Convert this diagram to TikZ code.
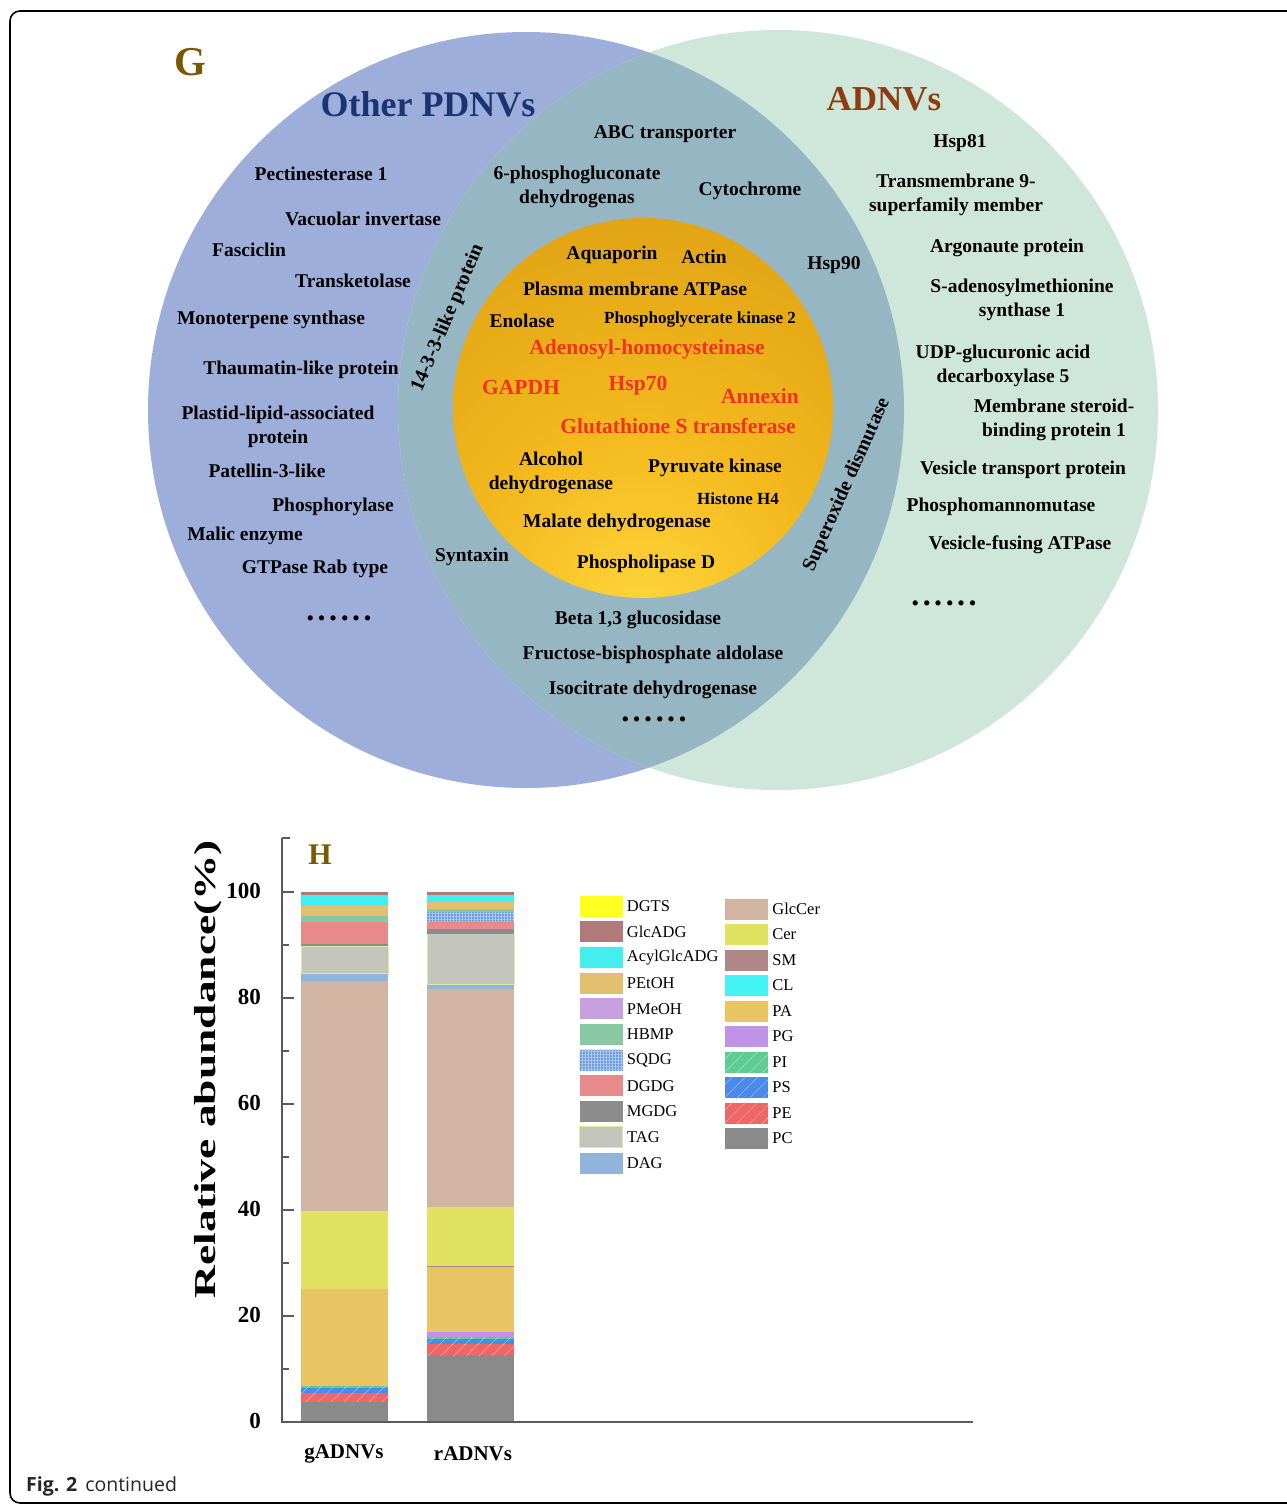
\documentclass[tikz,border=0pt]{standalone}
\usepackage{fontspec}
\setmainfont{Liberation Serif}
\newfontfamily\capfont{Open Sans}
\usetikzlibrary{positioning,patterns.meta}

% venn colours
\definecolor{vennBlue}{HTML}{9CAED9}
\definecolor{vennGreen}{HTML}{CFE7DB}
\definecolor{vennBoth}{HTML}{95B6C2}
\definecolor{goldHi}{HTML}{FFD83C}
\definecolor{goldMid}{HTML}{F3B81E}
\definecolor{goldDeep}{HTML}{D7980F}
\definecolor{goldDark}{HTML}{B07C08}
\definecolor{coreRed}{HTML}{F2321E}
\definecolor{tagG}{HTML}{785800}
\definecolor{titBlue}{HTML}{1A3574}
\definecolor{titBrown}{HTML}{8E3B10}
\definecolor{axGray}{HTML}{5A5A5A}
% lipid colours
\definecolor{cDGTS}{HTML}{FFFF22}
\definecolor{cGlcADG}{HTML}{B07A7A}
\definecolor{cAcyl}{HTML}{44EEEE}
\definecolor{cPEtOH}{HTML}{E2C070}
\definecolor{cPMeOH}{HTML}{C8A0E0}
\definecolor{cHBMP}{HTML}{88C8A2}
\definecolor{cSQDG}{HTML}{6C9CE0}
\definecolor{cDGDG}{HTML}{E88A8A}
\definecolor{cMGDG}{HTML}{8C8C8C}
\definecolor{cTAG}{HTML}{C4C6BE}
\definecolor{cTAGedge}{HTML}{D6EEA0}
\definecolor{cDAG}{HTML}{92B4DA}
\definecolor{cGlcCer}{HTML}{D2B4A2}
\definecolor{cCer}{HTML}{E2E262}
\definecolor{cSM}{HTML}{B08686}
\definecolor{cCL}{HTML}{44F4F4}
\definecolor{cPA}{HTML}{E8C462}
\definecolor{cPG}{HTML}{C092E8}
\definecolor{cPI}{HTML}{5ECC92}
\definecolor{cPS}{HTML}{4A8AE8}
\definecolor{cPE}{HTML}{F06666}
\definecolor{cPC}{HTML}{8A8A8A}

\pgfdeclareradialshading{coreGold}{\pgfpoint{0bp}{-30bp}}{%
  color(0bp)=(goldHi); color(22bp)=(goldMid); color(55bp)=(goldDeep);
  color(80bp)=(goldDark); color(100bp)=(goldDark)}

\newcommand{\sixdots}{.\hspace{3.5pt}.\hspace{3.5pt}.\hspace{3.5pt}.\hspace{3.5pt}.\hspace{3.5pt}.}

\begin{document}
\begin{tikzpicture}[
    x=1pt, y=-1pt,
    vtext/.style={font=\fontsize{19.5}{24}\selectfont\bfseries,align=center,inner sep=0pt},
    rtext/.style={vtext,text=coreRed,font=\fontsize{21.5}{25}\selectfont\bfseries},
    stext/.style={vtext,font=\fontsize{17}{20}\selectfont\bfseries},
    arctext/.style={vtext,font=\fontsize{20}{24}\selectfont\bfseries},
    ellip/.style={vtext,font=\fontsize{32}{32}\selectfont\bfseries},
    ticklab/.style={font=\fontsize{23}{25}\selectfont\bfseries,anchor=east,inner sep=0pt},
    catlab/.style={font=\fontsize{21}{24}\selectfont\bfseries,inner sep=0pt},
    legtext/.style={font=\fontsize{16.5}{18}\selectfont,inner sep=0pt,anchor=west},
    swatch/.style={minimum width=43pt,minimum height=21pt,inner sep=0pt},
    axline/.style={draw=axGray,line width=2.5pt},
    hatchw/.style={postaction={pattern={Lines[angle=45,distance=9pt,line width=0.5pt]},pattern color=white!45!#1}},
    lDGTS/.style={fill=cDGTS},
    lGlcADG/.style={fill=cGlcADG},
    lAcylGlcADG/.style={fill=cAcyl},
    lPEtOH/.style={fill=cPEtOH},
    lPMeOH/.style={fill=cPMeOH},
    lHBMP/.style={fill=cHBMP},
    lSQDG/.style={fill=cSQDG,postaction={pattern={Hatch[angle=0,distance=3pt,line width=0.5pt]},pattern color=cSQDG!55!white}},
    lDGDG/.style={fill=cDGDG},
    lMGDG/.style={fill=cMGDG},
    lTAG/.style={fill=cTAG,draw=cTAGedge,line width=0.8pt},
    lDAG/.style={fill=cDAG},
    lGlcCer/.style={fill=cGlcCer},
    lCer/.style={fill=cCer},
    lSM/.style={fill=cSM},
    lCL/.style={fill=cCL},
    lPA/.style={fill=cPA},
    lPG/.style={fill=cPG},
    lPI/.style={fill=cPI,hatchw=cPI},
    lPS/.style={fill=cPS,hatchw=cPS},
    lPE/.style={fill=cPE,hatchw=cPE},
    lPC/.style={fill=cPC},
  ]
  \useasboundingbox (0,0) rectangle (1287,1504);
  \fill[white] (0,0) rectangle (1287,1504);

  % --- frame ---
  \begin{scope}
    \clip (0,0) rectangle (1287,1504);
    \draw[line width=1.6pt,rounded corners=10pt] (1300,11) -- (10,11) -- (10,1503) -- (1300,1503);
  \end{scope}

  % --- venn circles ---
  \fill[vennBlue]  (526,410) circle[radius=378];
  \fill[vennGreen] (778,410) circle[radius=380];
  \begin{scope}
    \clip (526,410) circle[radius=378];
    \fill[vennBoth] (778,410) circle[radius=380];
  \end{scope}
  \shade[shading=coreGold] (643,408) circle[radius=190];

  % --- titles ---
  \node[font=\fontsize{41}{43}\selectfont\bfseries,text=tagG,inner sep=0pt] (tagG) at (190,62) {G};
  \node[font=\fontsize{36}{38}\selectfont\bfseries,text=titBlue,inner sep=0pt] (tOther) at (428,104) {Other PDNVs};
  \node[font=\fontsize{35}{38}\selectfont\bfseries,text=titBrown,inner sep=0pt] (tAD) at (884,99) {ADNVs};

  % --- other PDNVs only ---
  \node[vtext] (pect)  at (321,174) {Pectinesterase 1};
  \node[vtext] (vacu)  at (363,219) {Vacuolar invertase};
  \node[vtext] (fasc)  at (249,250) {Fasciclin};
  \node[vtext] (trans) at (353,281) {Transketolase};
  \node[vtext] (mono)  at (271,320) {Monoterpene synthase};
  \node[vtext] (thau)  at (301,370) {Thaumatin-like protein};
  \node[vtext] (plas)  at (278,427) {Plastid-lipid-associated\\protein};
  \node[vtext] (pate)  at (267,471) {Patellin-3-like};
  \node[vtext] (phos)  at (333,507) {Phosphorylase};
  \node[vtext] (mali)  at (245,536) {Malic enzyme};
  \node[vtext] (gtp)   at (315,569) {GTPase Rab type};
  \node[ellip] (dotsL) at (339,618) {\sixdots};

  % --- shared ring ---
  \node[vtext] (abc)   at (665,134) {ABC transporter};
  \node[vtext] (pgd)   at (577,187) {6-phosphogluconate\\dehydrogenas};
  \node[vtext] (cyto)  at (750,191) {Cytochrome};
  \node[vtext] (hsp90) at (834,265) {Hsp90};
  \node[arctext,rotate=67] (p1433) at (448,318) {14-3-3-like protein};
  \node[arctext,rotate=66] (sod)   at (847,485) {Superoxide dismutase};
  \node[vtext] (synt)  at (472,557) {Syntaxin};
  \node[vtext] (beta)  at (638,620) {Beta 1,3 glucosidase};
  \node[vtext] (fba)   at (653,655) {Fructose-bisphosphate aldolase};
  \node[vtext] (icd)   at (653,690) {Isocitrate dehydrogenase};
  \node[ellip] (dotsC) at (654,719) {\sixdots};

  % --- core ---
  \node[vtext] (aqua)  at (612,255) {Aquaporin};
  \node[vtext] (actin) at (704,257) {Actin};
  \node[vtext] (pmat)  at (635,289) {Plasma membrane ATPase};
  \node[vtext] (enol)  at (522,321) {Enolase};
  \node[stext] (pgk)   at (700,319) {Phosphoglycerate kinase 2};
  \node[rtext] (ahcy)  at (647,349) {Adenosyl-homocysteinase};
  \node[rtext] (gapdh) at (521,387) {GAPDH};
  \node[rtext] (hsp70) at (638,386) {Hsp70};
  \node[rtext] (anx)   at (760,396) {Annexin};
  \node[rtext] (gst)   at (678,426) {Glutathione S transferase};
  \node[vtext] (adh)   at (551,473) {Alcohol\\dehydrogenase};
  \node[vtext] (pyk)   at (715,468) {Pyruvate kinase};
  \node[stext] (h4)    at (738,499) {Histone H4};
  \node[vtext] (mdh)   at (617,523) {Malate dehydrogenase};
  \node[vtext] (pld)   at (646,564) {Phospholipase D};

  % --- ADNVs only ---
  \node[vtext] (hsp81) at (960,143) {Hsp81};
  \node[vtext] (tm9)   at (956,195) {Transmembrane 9-\\superfamily member};
  \node[vtext] (ago)   at (1007,248) {Argonaute protein};
  \node[vtext] (sams)  at (1022,300) {S-adenosylmethionine\\synthase 1};
  \node[vtext] (uxs)   at (1003,366) {UDP-glucuronic acid\\decarboxylase 5};
  \node[vtext] (msbp)  at (1054,420) {Membrane steroid-\\binding protein 1};
  \node[vtext] (vtp)   at (1023,470) {Vesicle transport protein};
  \node[vtext] (pmm)   at (1001,507) {Phosphomannomutase};
  \node[vtext] (nsf)   at (1020,545) {Vesicle-fusing ATPase};
  \node[ellip] (dotsR) at (944,603) {\sixdots};

  % --- stacked bars (value v sits at y = 1422 - 5.3 v) ---
  \foreach \lo/\hi/\st in {0/3.8/lPC, 3.8/5.5/lPE, 5.5/6.5/lPS, 6.5/6.8/lPI,
      6.8/25.1/lPA, 25.1/39.8/lCer, 39.8/83.2/lGlcCer, 83.2/84.7/lDAG,
      84.7/89.8/lTAG, 89.8/90.2/lMGDG, 90.2/94.3/lDGDG, 94.3/95.5/lHBMP,
      95.5/97.5/lPEtOH, 97.5/99.4/lAcylGlcADG, 99.4/100/lGlcADG}
    \path[\st] (301,{1422-5.3*\lo}) rectangle (388,{1422-5.3*\hi});
  \foreach \lo/\hi/\st in {0/12.6/lPC, 12.6/14.7/lPE, 14.7/15.7/lPS, 15.7/16.0/lPI,
      16.0/17.0/lPG, 17.0/29.2/lPA, 29.2/29.5/lSM, 29.5/40.5/lCer,
      40.5/81.7/lGlcCer, 81.7/82.5/lDAG, 82.5/92.1/lTAG, 92.1/93.0/lMGDG,
      93.0/94.5/lDGDG, 94.5/96.2/lSQDG, 96.2/96.8/lHBMP, 96.8/98.1/lPEtOH,
      98.1/99.4/lAcylGlcADG, 99.4/100/lGlcADG}
    \path[\st] (427,{1422-5.3*\lo}) rectangle (514,{1422-5.3*\hi});

  % --- axes ---
  \coordinate (yTop) at (282,838);
  \coordinate (org)  at (282,1422);
  \coordinate (xEnd) at (973,1422);
  \draw[axline] (yTop) -- (org) -- (xEnd);
  \draw[axline] (yTop) -- ++(8,0);
  \foreach \v in {0,20,...,100}{
    \draw[axline] (282,{1422-5.3*\v}) -- ++(12,0);
    \node[ticklab] (tk\v) at (261,{1421-5.3*\v}) {\v};
  }
  \foreach \v in {10,30,...,90}
    \draw[axline] (282,{1422-5.3*\v}) -- ++(7,0);
  \node[rotate=90,font=\fontsize{32}{34}\selectfont\bfseries,inner sep=0pt] (ylab) at (208,1069)
    {\scalebox{1.42}[0.95]{Relative abundance(\%)}};
  \node[catlab] (catG) at (344,1454) {gADNVs};
  \node[catlab] (catR) at (473,1454) {rADNVs};
  \node[font=\fontsize{30}{32}\selectfont\bfseries,text=tagG,inner sep=0pt] (tagH) at (320,855) {H};

  % --- legend ---
  \foreach \nm [count=\i] in {DGTS,GlcADG,AcylGlcADG,PEtOH,PMeOH,HBMP,SQDG,DGDG,MGDG,TAG,DAG}{
    \node[swatch,l\nm] (sw\nm) at (601,{906+25.7*(\i-1)}) {};
    \node[legtext,right=4pt of sw\nm] (lt\nm) {\nm};
  }
  \foreach \nm [count=\i] in {GlcCer,Cer,SM,CL,PA,PG,PI,PS,PE,PC}{
    \node[swatch,l\nm] (sw\nm) at (746.5,{909+25.5*(\i-1)}) {};
    \node[legtext,right=4pt of sw\nm] (lt\nm) {\nm};
  }

  % --- caption ---
  \node[anchor=west,inner sep=0pt,font=\capfont\fontsize{19.5}{21}\selectfont,text=black!85] (cap) at (26,1486)
    {\textbf{Fig. 2}\hspace{8pt}continued};
\end{tikzpicture}
\end{document}
